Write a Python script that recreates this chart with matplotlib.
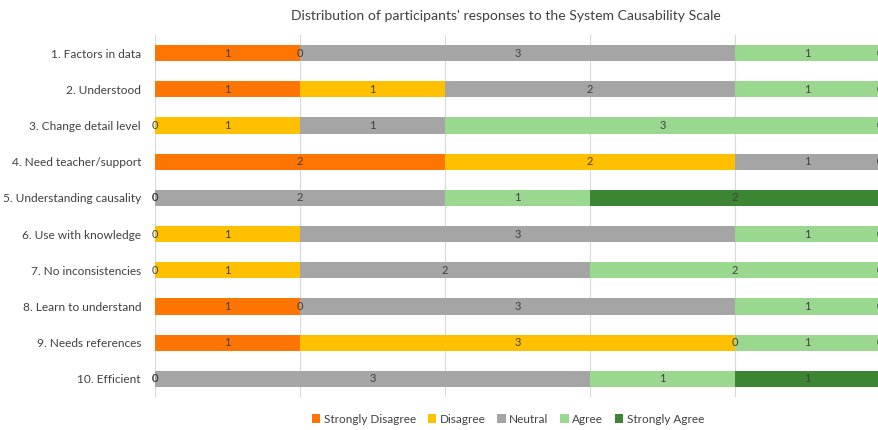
#!/usr/bin/env python3
"""Stacked horizontal bars: System Causability Scale responses."""

import matplotlib
matplotlib.use("Agg")
import matplotlib.pyplot as plt
import numpy as np

plt.rcParams["font.family"] = ["Lato", "DejaVu Sans"]

ITEMS = [
    "1. Factors in data",
    "2. Understood",
    "3. Change detail level",
    "4. Need teacher/support",
    "5. Understanding causality",
    "6. Use with knowledge",
    "7. No inconsistencies",
    "8. Learn to understand",
    "9. Needs references",
    "10. Efficient",
]

RESPONSES = ["Strongly Disagree", "Disagree", "Neutral", "Agree", "Strongly Agree"]

strongly_disagree = [1, 1, 0, 2, 0, 0, 0, 1, 1, 0]
disagree = [0, 1, 1, 2, 0, 1, 1, 0, 3, 0]
neutral = [3, 2, 1, 1, 2, 3, 2, 3, 0, 3]
agree = [1, 1, 3, 0, 1, 1, 2, 1, 1, 1]
strongly_agree = [0, 0, 0, 0, 2, 0, 0, 0, 0, 1]

COLORS = ["#FF7504", "#FFC000", "#A5A5A5", "#9AD88F", "#3C8533"]


def main() -> None:
    fig = plt.figure(figsize=(8.79, 4.30), dpi=100)
    ax = fig.add_axes([155 / 879, 33 / 430, 725 / 879, 362 / 430])

    series = [strongly_disagree, disagree, neutral, agree, strongly_agree]
    y = np.arange(len(ITEMS))
    left = np.zeros(len(ITEMS))

    for name, values, color in zip(RESPONSES, series, COLORS):
        values = np.array(values, dtype=float)
        ax.barh(y, values, left=left, height=0.45, color=color, label=name, zorder=2)
        for yi, (l, v) in enumerate(zip(left, values)):
            ax.text(l + v / 2, yi, f"{int(v)}", ha="center", va="center",
                    fontsize=8, color="#404040", zorder=3)
        left += values

    ax.set_xlim(0, 5)
    ax.set_ylim(len(ITEMS) - 0.5, -0.5)
    ax.set_yticks(y)
    ax.set_yticklabels(ITEMS, fontsize=8.6, color="#404040")
    ax.tick_params(axis="y", length=0, pad=10)
    ax.set_xticks([0, 1, 2, 3, 4, 5])
    ax.tick_params(axis="x", length=0, labelbottom=False)
    ax.grid(True, axis="x", color="#D9D9D9", linewidth=0.8, zorder=0)
    for spine in ax.spines.values():
        spine.set_visible(False)

    fig.text(0.575, 0.963, "Distribution of participants' responses to the System Causability Scale",
             ha="center", va="center", fontsize=10.1, color="#404040")

    fig.legend(loc="center", bbox_to_anchor=(0.578, 0.025), ncol=5, frameon=False,
               fontsize=8.5, labelcolor="#404040", handlelength=0.7, handleheight=0.7,
               handletextpad=0.3, columnspacing=1.0)

    fig.savefig("out.png", dpi=100)


if __name__ == "__main__":
    main()
